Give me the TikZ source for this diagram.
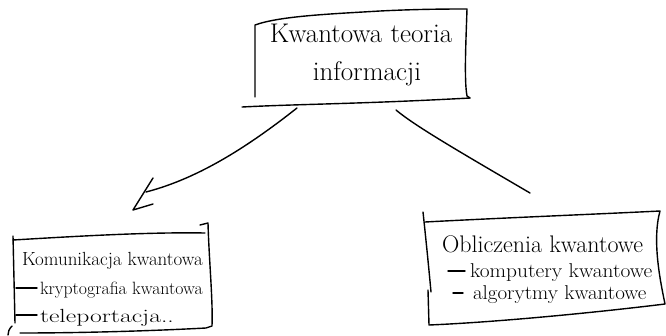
\documentclass[tikz,border=0pt]{standalone}
\usepackage{graphicx}
\usetikzlibrary{calc}
\begin{document}
\begin{tikzpicture}[x=1pt,y=-1pt,
  pen/.style={line width=1.4pt, line cap=round, line join=round},
  label/.style={inner sep=0pt, outer sep=0pt},
  toptext/.style={label, anchor=base, font=\fontsize{27}{30}\selectfont},
  lefttext/.style={label, anchor=base west, font=\fontsize{19}{22}\selectfont},
  righttext/.style={label, anchor=base west, font=\fontsize{20}{22}\selectfont}]
\useasboundingbox[fill=white] (0,0) rectangle (666,335);

% ---- top box: quantum information theory
\node[toptext] (t1) at (361,42) {Kwantowa teoria};
\node[toptext] (t2) at (367,80) {informacji};
\draw[pen] (255,97) -- (255,25)
  .. controls (280,16) and (330,14) .. (380,11)
  .. controls (420,9) and (450,9) .. (467,9)
  .. controls (466,40) and (464,80) .. (467,96) -- (470,98);
\draw[pen] (242,107) .. controls (300,104) and (360,104) .. (470,98);

% ---- left box: quantum communication
\node[lefttext] (l1) at (22,265) {Komunikacja kwantowa};
\node[lefttext, font=\fontsize{17.8}{20}\selectfont] (l2) at (40,294) {kryptografia kwantowa};
\node[lefttext] (l3) at (40,322) {\scalebox{1.35}[1]{teleportacja..}};
\draw[pen] (13,236) -- (15,323);
\draw[pen] (13,240) .. controls (80,236) and (150,232) .. (205,233);
\draw[pen] (200,225) -- (208,223)
  .. controls (209,260) and (213,300) .. (212,326) -- (206,328)
  .. controls (150,331) and (80,333) .. (20,333);
\draw[pen] (12,326) .. controls (9,329) and (8,332) .. (8,335);
\draw[pen] (16,288) -- (37,288);
\draw[pen] (16,315) -- (37,315);

% ---- right box: quantum computation
\node[righttext, font=\fontsize{24}{26}\selectfont] (r1) at (442,252) {Obliczenia kwantowe};
\node[righttext] (r2) at (470,277) {\scalebox{1.07}[1]{komputery kwantowe}};
\node[righttext] (r3) at (473,299) {\scalebox{1.05}[1]{algorytmy kwantowe}};
\draw[pen] (423,212) .. controls (426,240) and (429,270) .. (431,292);
\draw[pen] (428,290) -- (429,325)
  .. controls (500,322) and (600,312) .. (665,304)
  .. controls (660,280) and (652,240) .. (660,211)
  .. controls (600,214) and (500,218) .. (425,222);
\draw[pen] (448,271) -- (465,271);
\draw[pen] (453,293) -- (463,293);

% ---- connectors
\coordinate (aS) at (297,108);
\coordinate (aE) at (146,192);
\coordinate (aT) at (133,210);
\coordinate (bS) at (396,110);
\coordinate (bE) at (530,193);
\draw[pen] (aS) .. controls (250,145) and (200,178) .. (aE);
\draw[pen] ($(aT)+(20,-32)$) -- (aT) -- ($(aT)+(20,-6)$);
\draw[pen] (bS) .. controls (415,126) and (460,152) .. (bE);
\end{tikzpicture}
\end{document}
